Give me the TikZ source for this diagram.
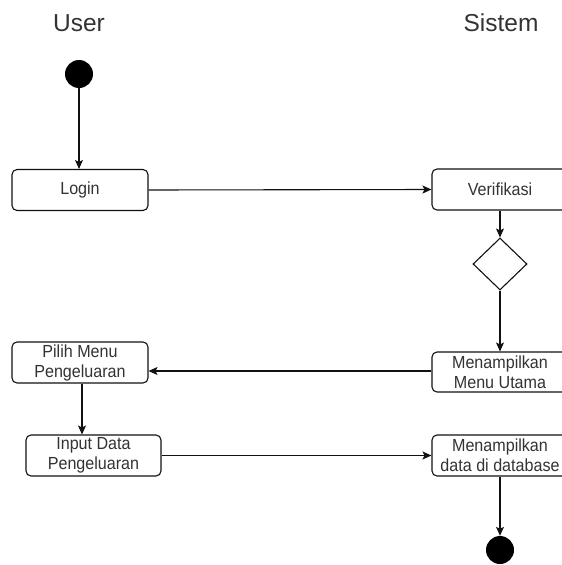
\documentclass[tikz,border=0pt]{standalone}
\usepackage{fontspec}
\setmainfont{Liberation Sans}
\newfontfamily\boxfont[FakeStretch=0.92]{Liberation Sans}
\usetikzlibrary{shapes.geometric,arrows.meta}
\definecolor{txt}{HTML}{333333}
\definecolor{ln}{HTML}{111111}
\begin{document}
\begin{tikzpicture}[x=1pt,y=-1pt,
  act/.style={draw=ln,line width=1.1pt,rounded corners=5pt,minimum width=136pt,minimum height=41pt,
    align=center,text=txt,font=\boxfont\fontsize{17.5}{20}\selectfont,inner sep=0pt},
  lane/.style={text=txt,font=\fontsize{24.5}{28}\selectfont,inner sep=0pt},
  dot/.style={circle,fill=black,minimum size=28pt,inner sep=0pt},
  dec/.style={diamond,draw=ln,line width=1.1pt,minimum width=54pt,minimum height=52pt,inner sep=0pt},
  flow/.style={draw=ln,line width=1.1pt,-{Stealth[length=9pt,width=8pt,inset=2pt]}}]
\useasboundingbox (0,0) rectangle (562,565);
\clip (0,0) rectangle (562,565);
\fill[white] (0,0) rectangle (562,565);
\node[lane] (user) at (79,23) {User};
\node[lane] (sistem) at (501,23) {Sistem};
\node[dot] (start) at (79,74) {};
\node[act] (login) at (80,190) {Login};
\node[act] (verif) at (500,189.5) {Verifikasi};
\node[dec] (cek) at (500,264) {};
\node[act,minimum height=40pt] (utama) at (500,372) {Menampilkan\\Menu Utama};
\node[act] (pilih) at (80,362.5) {Pilih Menu\\Pengeluaran};
\node[act,minimum width=135pt] (input) at (93.5,455.5) {Input Data\\Pengeluaran};
\node[act] (data) at (500,455.5) {Menampilkan\\data di database};
\node[dot] (end) at (500,550) {};
\draw[flow] (start) -- (start |- login.north);
\draw[flow] (login.east) -- (verif.west);
\draw[flow] (verif.south) -- (cek.north);
\draw[flow] (cek.south) -- (utama.north);
\draw[flow] ([yshift=1pt]utama.west) -- ([yshift=1pt]utama.west -| pilih.east);
\draw[flow] ([xshift=2pt]pilih.south) -- ([xshift=2pt]pilih.south |- input.north);
\draw[flow] (input.east) -- (data.west);
\draw[flow] (data.south) -- (end.north);
\end{tikzpicture}
\end{document}
